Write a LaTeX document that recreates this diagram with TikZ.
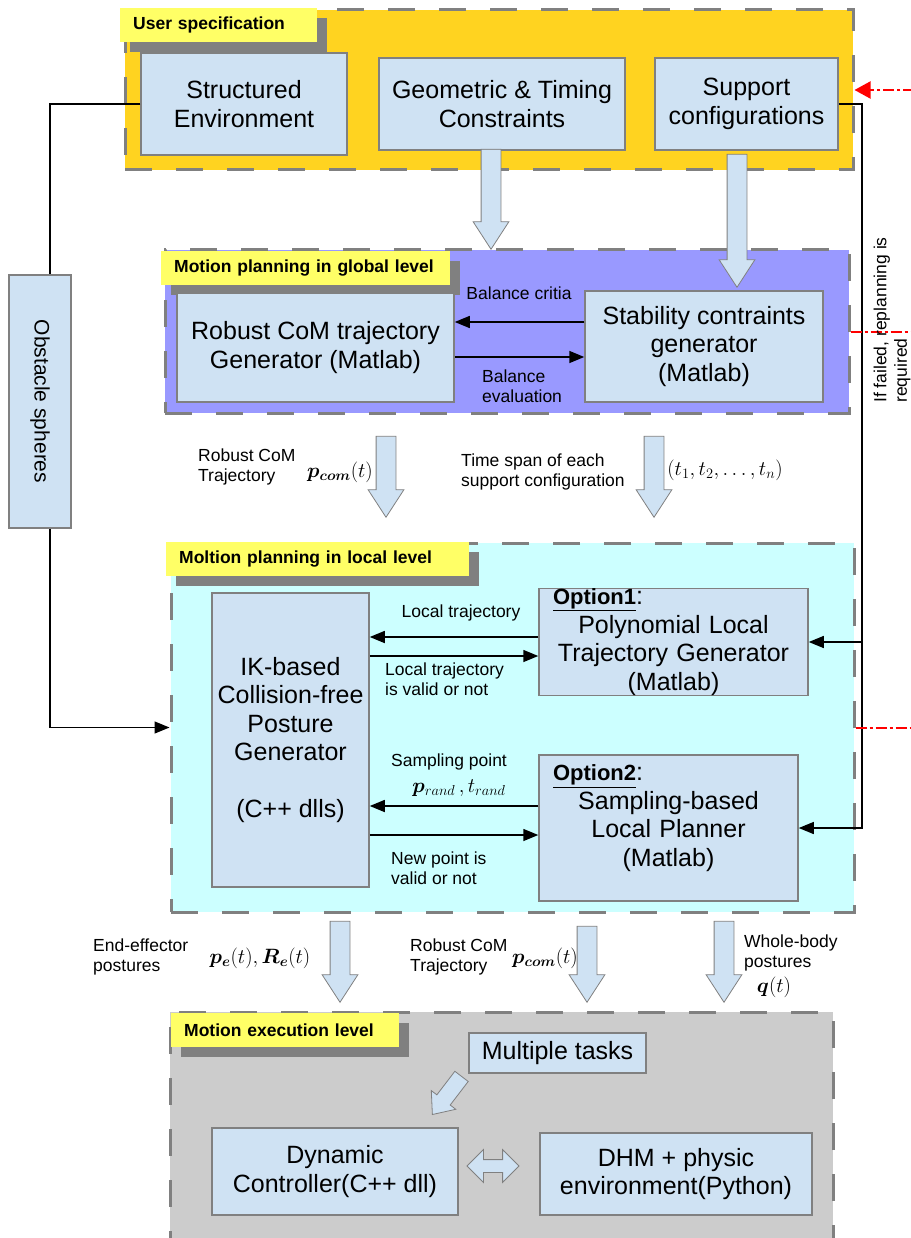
\documentclass[tikz,border=0pt]{standalone}
\usepackage{bm}
\usepackage{fontspec}
\setmainfont{Liberation Sans}
\usetikzlibrary{shapes.arrows,shadows,arrows.meta}

\definecolor{userbg}{RGB}{255,211,32}
\definecolor{globalbg}{RGB}{153,153,255}
\definecolor{localbg}{RGB}{204,255,255}
\definecolor{execbg}{RGB}{204,204,204}
\definecolor{tagyellow}{RGB}{255,255,102}
\definecolor{boxblue}{RGB}{207,226,243}
\definecolor{edgegray}{RGB}{128,128,128}
\definecolor{failred}{RGB}{255,0,0}

\newcommand{\mathfnt}{\fontsize{21}{24}\selectfont}
\newcommand{\optfnt}{\fontsize{22}{28}\selectfont\bfseries}

\begin{document}
\begin{tikzpicture}[x=1pt,y=-1pt,
	panel/.style={draw=edgegray,line width=3pt,dash pattern=on 27pt off 24pt,inner sep=0pt},
	tag/.style={fill=tagyellow,anchor=north west,minimum height=34pt,inner xsep=13pt,inner ysep=0pt,align=left,
		font=\fontsize{17.5}{20}\selectfont\bfseries,
		drop shadow={shadow xshift=10pt,shadow yshift=-10pt,fill=edgegray,opacity=1}},
	block/.style={draw=edgegray,line width=1.5pt,fill=boxblue,inner sep=0pt,align=center,font=\fontsize{25}{28.5}\selectfont},
	lbl/.style={font=\fontsize{17.5}{20.5}\selectfont,align=left,inner sep=0pt},
	bigarrow/.style={single arrow,draw=edgegray,fill=boxblue,line width=0.8pt,anchor=tip,rotate=#1,
		inner sep=9.5pt,single arrow head extend=8pt,single arrow tip angle=66},
	bigarrow/.default=-90,
	arrowline/.style={line width=1.5pt,-{Triangle[length=15pt,width=12pt]}},
	redline/.style={draw=failred,line width=2pt,dash pattern=on 11pt off 3pt on 3pt off 3pt}]
\useasboundingbox (0,0) rectangle (910,1238);

% levels
\node[panel,fill=userbg,minimum width=728pt,minimum height=160pt] (userlvl) at (489,90) {};
\node[panel,fill=globalbg,minimum width=684pt,minimum height=163pt] (globallvl) at (507,331.5) {};
\node[panel,fill=localbg,minimum width=683pt,minimum height=369pt] (locallvl) at (512.5,727.5) {};
\node[panel,fill=execbg,minimum width=663pt,minimum height=240pt] (execlvl) at (501.5,1132) {};

\node[tag,text width=171pt] (usertag) at (120,8) {User specification};
\node[tag,text width=263pt] (globaltag) at (161,251) {Motion planning in global level};
\node[tag,text width=277pt] (localtag) at (166,542) {Moltion planning in local level};
\node[tag,text width=202pt] (exectag) at (171,1013) {Motion execution level};

% blocks
\node[block,minimum width=206pt,minimum height=102pt] (structenv) at (244,104) {Structured\\Environment};
\node[block,minimum width=246pt,minimum height=92pt] (geotime) at (502,104) {Geometric \& Timing\\Constraints};
\node[block,minimum width=183pt,minimum height=92pt] (supportcfg) at (746.5,104) {Support\\configurations};
\node[block,minimum width=277pt,minimum height=109pt] (comgen) at (315.5,347.5) {Robust CoM trajectory\\Generator (Matlab)};
\node[block,minimum width=238pt,minimum height=111pt] (stabgen) at (704,346.5) {Stability contraints\\generator\\(Matlab)};
\node[block,minimum width=157pt,minimum height=294pt] (ikgen) at (290.5,740) {IK-based\\Collision-free\\Posture\\Generator\\[28.5pt](C++ dlls)};
\node[block,minimum width=269pt,minimum height=106pt,text width=241pt] (option1) at (673.5,642)
	{\makebox[241pt][l]{{\optfnt\underline{Option1}}:}\\Polynomial Local\\Trajectory Generator\\(Matlab)};
\node[block,minimum width=259pt,minimum height=146pt,text width=231pt] (option2) at (668.5,828)
	{\makebox[231pt][l]{{\optfnt\underline{Option2}}:}\\Sampling-based\\Local Planner\\(Matlab)\\[-4pt]\mbox{}};
\node[block,minimum width=177pt,minimum height=40pt] (multitask) at (557.5,1053) {Multiple tasks};
\node[block,minimum width=246pt,minimum height=87pt] (dynctrl) at (335,1171.5) {Dynamic\\Controller(C++ dll)};
\node[block,minimum width=272pt,minimum height=82pt] (dhmenv) at (676,1174) {DHM + physic\\environment(Python)};
\node[block,minimum width=62pt,minimum height=253pt,font=\fontsize{21}{24}\selectfont] (obstacle) at (40,401.5) {\rotatebox{-90}{Obstacle spheres}};

% block arrows
\node[bigarrow,minimum height=100pt] (geoarrow) at (491,250) {};
\node[bigarrow,minimum height=133pt] (supparrow) at (737,288) {};
\node[bigarrow,minimum height=81pt] (comarrow) at (386,518) {};
\node[bigarrow,minimum height=81pt] (spanarrow) at (654,518) {};
\node[bigarrow,minimum height=81pt] (effarrow) at (340,1003) {};
\node[bigarrow,minimum height=76pt] (comarrowb) at (587,1003) {};
\node[bigarrow,minimum height=81pt] (bodyarrow) at (724,1003) {};
\node[bigarrow=232.6,minimum height=48pt,inner sep=8pt,single arrow head extend=7pt,single arrow tip angle=80] (taskarrow) at (432,1115) {};
\node[double arrow,draw=edgegray,fill=boxblue,line width=0.8pt,minimum height=52pt,inner sep=6pt,double arrow head extend=10pt] (swaparrow) at (493,1166) {};

% connectors
\draw[arrowline] (stabgen.west |- 0,322) -- (comgen.east |- 0,322);
\draw[arrowline] (comgen.east |- 0,357) -- (stabgen.west |- 0,357);
\draw[arrowline] (option1.west |- 0,637) -- (ikgen.east |- 0,637);
\draw[arrowline] (ikgen.east |- 0,656) -- (option1.west |- 0,656);
\draw[arrowline] (option2.west |- 0,806) -- (ikgen.east |- 0,806);
\draw[arrowline] (ikgen.east |- 0,835) -- (option2.west |- 0,835);

\draw[line width=1.3pt] (structenv.west) -| ([xshift=10pt]obstacle.north);
\draw[arrowline,line width=1.3pt] ([xshift=10pt]obstacle.south) |- (locallvl.west);

\coordinate (fbcorner) at (862,104);
\draw[arrowline,line width=1.3pt] (supportcfg.east) -- (fbcorner) |- (option2.east);
\draw[arrowline,line width=1.3pt] (fbcorner |- option1.east) -- (option1.east);

\coordinate (redtop) at (914,90);
\coordinate (redmid) at (914,331.5);
\coordinate (redlow) at (914,727.5);
\draw[redline,-{Triangle[length=16pt,width=17pt,fill=failred]}] (redtop) -- (userlvl.east);
\draw[redline] (globallvl.east) -- (redmid);
\draw[redline] (locallvl.east) -- (redlow);

% labels
\node[lbl,rotate=90] (replanlbl) at (892,320) {If failed, replanning is\\required};
\node[lbl] (critlbl) at (519,293) {Balance critia};
\node[lbl,anchor=west] (evallbl) at (482,386) {Balance\\evaluation};
\node[lbl,anchor=west] (comlbl) at (198,467) {Robust CoM\\Trajectory};
\node[font=\mathfnt,inner sep=0pt] (commath) at (340,472) {$\bm{p}_{\bm{com}}(t)$};
\node[lbl,anchor=west] (spanlbl) at (461,472) {Time span of each\\support configuration};
\node[font=\mathfnt,inner sep=0pt] (spanmath) at (725,470) {$(t_1,t_2,\dots,t_n)$};
\node[lbl] (loclbl) at (461,613) {Local trajectory};
\node[lbl,anchor=west] (validlbl) at (385,679) {Local trajectory\\is valid or not};
\node[lbl] (samplbl) at (449,762) {Sampling point};
\node[font=\mathfnt,inner sep=0pt] (sampmath) at (459,788) {$\bm{p}_{rand}\,,t_{rand}$};
\node[lbl,anchor=west] (newlbl) at (391,868) {New point is\\valid or not};
\node[lbl,anchor=west] (efflbl) at (93,957) {End-effector\\postures};
\node[font=\mathfnt,inner sep=0pt] (effmath) at (260,958) {$\bm{p}_{\bm{e}}(t),\bm{R}_{\bm{e}}(t)$};
\node[lbl,anchor=west] (comlblb) at (410,957) {Robust CoM\\Trajectory};
\node[font=\mathfnt,inner sep=0pt] (commathb) at (545,958) {$\bm{p}_{\bm{com}}(t)$};
\node[lbl,anchor=west] (bodylbl) at (744,953) {Whole-body\\postures};
\node[font=\mathfnt,inner sep=0pt] (bodymath) at (774,987) {$\bm{q}(t)$};
\end{tikzpicture}
\end{document}
